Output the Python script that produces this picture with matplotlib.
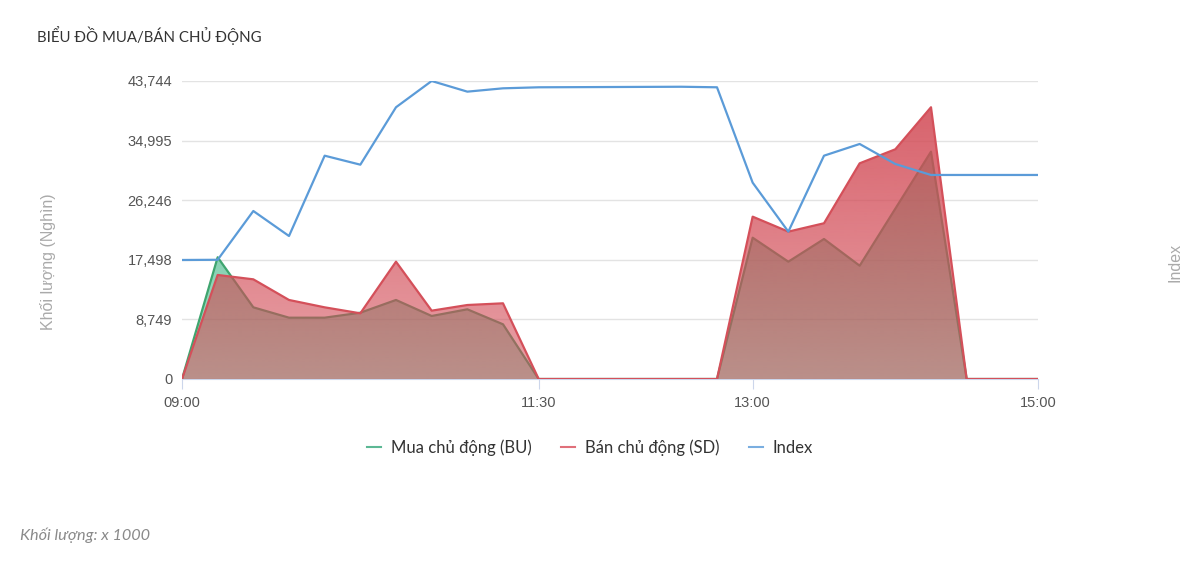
import numpy as np
import pandas as pd
import matplotlib
matplotlib.use('Agg')
import matplotlib.pyplot as plt
from matplotlib.lines import Line2D

# data (15 minute steps, 09:00 -> 15:00)
times = ['09:00', '09:15', '09:30', '09:45', '10:00', '10:15', '10:30', '10:45',
         '11:00', '11:15', '11:30', '11:45', '12:00', '12:15', '12:30', '12:45',
         '13:00', '13:15', '13:30', '13:45', '14:00', '14:15', '14:30', '14:45', '15:00']
bu = [0, 17870, 10520, 9000, 9000, 9730, 11600, 9250, 10230, 8030, 0,
      0, 0, 0, 0, 0, 20740, 17220, 20550, 16630, 25000, 33370, 0, 0, 0]
sd = [0, 15270, 14630, 11600, 10520, 9640, 17220, 10030, 10860, 11110, 0,
      0, 0, 0, 0, 0, 23830, 21630, 22860, 31660, 33720, 39890, 0, 0, 0]
index = [17470, 17500, 24660, 20990, 32780, 31460, 39890, 43744, 42180, 42670, 42820,
         42840, 42860, 42880, 42900, 42820, 28820, 21630, 32780, 34500, 31560, 29950,
         29950, 29950, 29950]
yticks = [0, 8749, 17498, 26246, 34995, 43744]
xtick_labels = ['09:00', '11:30', '13:00', '15:00']

t = pd.to_datetime(times, format='%H:%M')
x = ((t - t[0]).total_seconds() / 60).values
xt = pd.to_datetime(xtick_labels, format='%H:%M')
xt = ((xt - t[0]).total_seconds() / 60).values

ymax = yticks[-1]
green = '#3fa56f'
red = '#d4505a'
blue = '#5b9bd8'

fig = plt.figure(figsize=(12, 5.62), dpi=100)
ax = fig.add_axes([182/1200, 1-379/562, 856/1200, 298/562])


def grad_fill(ax, xs, ys, rgb, a_top, a_bot, z):
    poly = ax.fill_between(xs, 0, ys, facecolor='none', edgecolor='none')
    n = 256
    img = np.zeros((n, 1, 4))
    img[..., :3] = matplotlib.colors.to_rgb(rgb)
    img[:, 0, 3] = np.linspace(a_bot, a_top, n)
    im = ax.imshow(img, extent=[xs[0], xs[-1], 0, ymax], origin='lower',
                   aspect='auto', zorder=z, interpolation='bilinear')
    im.set_clip_path(poly.get_paths()[0], transform=ax.transData)


grad_fill(ax, x, bu, '#2fb07a', 0.75, 0.45, 2)
ax.plot(x, bu, color=green, lw=1.6, zorder=2.5)
grad_fill(ax, x, sd, '#d24a55', 0.9, 0.52, 3)
ax.plot(x, sd, color=red, lw=1.6, zorder=3.5)

ax.set_xlim(x[0], x[-1])
ax.set_ylim(0, ymax)
ax.set_yticks(yticks)
ax.set_yticklabels([f'{v:,}' for v in yticks])
ax.set_xticks(xt)
ax.set_xticklabels(xtick_labels)
ax.grid(axis='y', color='#e3e3e3', lw=1)
ax.set_axisbelow(True)
for s in ['left', 'right', 'top']:
    ax.spines[s].set_visible(False)
ax.spines['bottom'].set_color('#ccd6eb')
ax.tick_params(axis='y', length=0, pad=7, labelsize=10.5, labelcolor='#555555')
ax.tick_params(axis='x', length=7, color='#ccd6eb', pad=5, labelsize=10.5, labelcolor='#555555')
for lab in ax.get_xticklabels() + ax.get_yticklabels():
    lab.set_family('Liberation Sans')

ax2 = ax.twinx()
ax2.plot(x, index, color=blue, lw=1.6, zorder=5)
ax2.set_ylim(0, ymax)
ax2.set_yticks([])
for s in ['left', 'right', 'top', 'bottom']:
    ax2.spines[s].set_visible(False)

fig.text(37/1200, 1-36/562, 'BIỂU ĐỒ MUA/BÁN CHỦ ĐỘNG', fontsize=10.8, color='#333333',
         va='center', ha='left', family='Lato')
fig.text(48/1200, 1-262/562, 'Khối lượng (Nghìn)', rotation=90, fontsize=11.5,
         color='#aaaaaa', va='center', ha='center', family='Liberation Sans')
fig.text(1175/1200, 1-262/562, 'Index', rotation=90, fontsize=11.5,
         color='#aaaaaa', va='center', ha='center', family='Liberation Sans')
fig.text(20/1200, 1-535/562, 'Khối lượng: x 1000', fontsize=11.7, style='italic',
         color='#8a8a8a', va='center', ha='left', family='Lato')

handles = [Line2D([], [], color='#5cb894', lw=1.5),
           Line2D([], [], color='#e0707a', lw=1.5),
           Line2D([], [], color='#7aaee0', lw=1.5)]
leg = fig.legend(handles, ['Mua chủ động (BU)', 'Bán chủ động (SD)', 'Index'],
                 loc='center', bbox_to_anchor=(590/1200, 1-448/562), ncol=3,
                 frameon=False, handlelength=0.8, handletextpad=0.6,
                 columnspacing=1.8, prop={'family': 'Lato', 'size': 12})
for txt in leg.get_texts():
    txt.set_color('#333333')

fig.savefig('out.png', dpi=100)
